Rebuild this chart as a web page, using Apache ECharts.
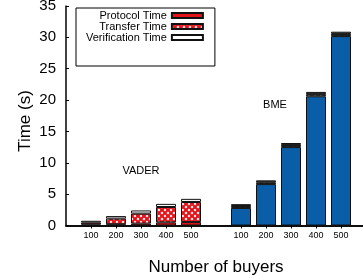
<!DOCTYPE html>
<html lang="en">
<head>
    <meta charset="UTF-8">
    <title>Time vs number of buyers</title>
    <script src="https://cdn.jsdelivr.net/npm/echarts@6/dist/echarts.min.js"></script>
</head>
<body style="margin:0;background:#fff">
<div id="main" style="width:363px;height:278px;"></div>
<script type="text/javascript">
    // 数据
    var buyers = ['100', '200', '300', '400', '500'];
    var vaderProtocol = [0.15, 0.2, 0.3, 0.5, 0.55];
    var vaderTransfer = [0.3, 0.9, 1.6, 2.45, 3.2];
    var vaderVerification = [0.3, 0.4, 0.5, 0.5, 0.5];
    var bmeProtocol = [2.8, 6.6, 12.5, 20.6, 30.2];
    var bmeTransfer = [0.3, 0.3, 0.35, 0.35, 0.35];
    var bmeVerification = [0.3, 0.3, 0.3, 0.35, 0.35];
    var yMin = 0, yMax = 35, yStep = 5;

    var red = '#e3131b';
    var blue = '#0a5ea8';
    var font = 'Liberation Sans, Arial, Helvetica, sans-serif';

    // 交叉网格填充
    function crossHatch(bg, fg, lw) {
        var c = document.createElement('canvas');
        c.width = c.height = 6;
        var ctx = c.getContext('2d');
        ctx.fillStyle = bg;
        ctx.fillRect(0, 0, 6, 6);
        ctx.strokeStyle = fg;
        ctx.lineWidth = lw;
        ctx.beginPath();
        ctx.moveTo(0, 0); ctx.lineTo(6, 6);
        ctx.moveTo(6, 0); ctx.lineTo(0, 6);
        ctx.stroke();
        return {image: c, repeat: 'repeat'};
    }

    // 类别：空位 + VADER 五组 + 空位 + BME 五组 + 空位
    var cats = [''].concat(buyers, [''], buyers, ['']);

    function build(vader, bme, bmeStyle) {
        var out = ['-'];
        vader.forEach(function (v) { out.push(v); });
        out.push('-');
        bme.forEach(function (v) {
            out.push(bmeStyle ? {value: v, itemStyle: bmeStyle} : v);
        });
        out.push('-');
        return out;
    }

    var myChart = echarts.init(document.getElementById('main'));
    var border = {borderColor: '#111', borderWidth: 1};

    myChart.setOption({
        animation: false,
        textStyle: {fontFamily: font},
        grid: {left: 66, top: 6, width: 300, height: 219.5, outerBoundsMode: 'none'},
        legend: {
            data: ['Protocol Time', 'Transfer Time', 'Verification Time'],
            orient: 'vertical',
            left: 76,
            top: 8,
            align: 'right',
            icon: 'rect',
            itemWidth: 31,
            itemHeight: 5,
            itemGap: 0,
            padding: [2, 11, 23, 10],
            borderColor: '#000',
            borderWidth: 1,
            borderRadius: 0,
            textStyle: {fontSize: 11, lineHeight: 10, color: '#000', fontFamily: font}
        },
        xAxis: [{
            type: 'category',
            data: cats,
            boundaryGap: false,
            position: 'bottom',
            name: 'Number of buyers',
            nameLocation: 'middle',
            nameGap: 33,
            nameTextStyle: {fontSize: 17, color: '#000'},
            axisLine: {lineStyle: {color: '#000', width: 1.5}},
            axisTick: {show: false},
            axisLabel: {interval: 0, fontSize: 9, color: '#000', margin: 6}
        }, {
            type: 'category',
            data: cats,
            boundaryGap: false,
            position: 'top',
            axisLine: {lineStyle: {color: '#000', width: 1.5}},
            axisTick: {
                inside: true, length: 3, lineStyle: {color: '#000'},
                interval: function (idx, val) { return val !== ''; }
            },
            axisLabel: {show: false}
        }],
        yAxis: [{
            type: 'value',
            min: yMin, max: yMax, interval: yStep,
            axisLine: {show: true, lineStyle: {color: '#000', width: 1.5}},
            axisTick: {show: true, inside: true, length: 3, lineStyle: {color: '#000'}},
            axisLabel: {fontSize: 15, color: '#000', margin: 10},
            splitLine: {show: false}
        }, {
            type: 'value',
            position: 'right',
            min: yMin, max: yMax, interval: yStep,
            axisLine: {show: true, lineStyle: {color: '#000', width: 1.5}},
            axisTick: {show: true, inside: true, length: 3, lineStyle: {color: '#000'}},
            axisLabel: {show: false},
            splitLine: {show: false}
        }],
        graphic: [
            {type: 'text', x: 25, y: 121, rotation: Math.PI / 2, style: {text: 'Time (s)', align: 'center', verticalAlign: 'middle', textAlign: 'center', textVerticalAlign: 'middle', fontSize: 17, fontFamily: font, fill: '#000'}},
            {type: 'text', x: 141, y: 171, style: {text: 'VADER', align: 'center', verticalAlign: 'middle', textAlign: 'center', textVerticalAlign: 'middle', fontSize: 11, fontFamily: font, fill: '#000'}},
            {type: 'text', x: 275, y: 105, style: {text: 'BME', align: 'center', verticalAlign: 'middle', textAlign: 'center', textVerticalAlign: 'middle', fontSize: 11, fontFamily: font, fill: '#000'}}
        ],
        series: [{
            name: 'Protocol Time',
            type: 'bar',
            stack: 'time',
            barWidth: 20,
            itemStyle: Object.assign({color: red}, border),
            data: build(vaderProtocol, bmeProtocol, {color: blue})
        }, {
            name: 'Transfer Time',
            type: 'bar',
            stack: 'time',
            barWidth: 20,
            itemStyle: Object.assign({color: crossHatch('#fff', red, 2.2)}, border),
            data: build(vaderTransfer, bmeTransfer, {color: crossHatch('#fff', '#444', 2.6)})
        }, {
            name: 'Verification Time',
            type: 'bar',
            stack: 'time',
            barWidth: 20,
            itemStyle: Object.assign({color: '#fff'}, border),
            data: build(vaderVerification, bmeVerification, {color: '#888'})
        }]
    });
</script>
</body>
</html>
